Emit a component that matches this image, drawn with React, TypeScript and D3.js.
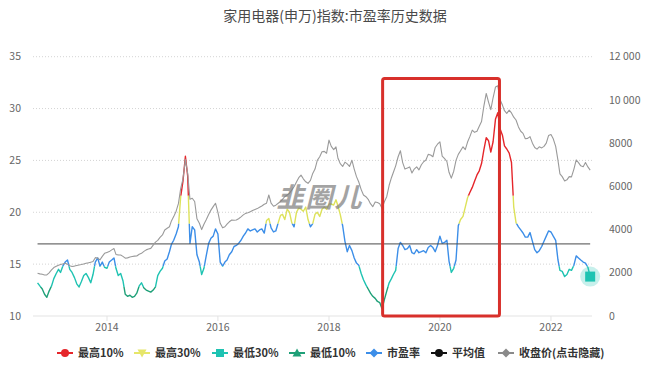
import React from "react";
import * as d3 from "d3";

const W = 670;
const H = 366;

// 市盈率 (semi-monthly, 2012-10 .. 2022-09)
const peValues = [
  13.2, 12.9, 12.6, 12.1, 11.8, 12.4, 12.9, 13.6, 14.1, 14.5,
  14.2, 14.8, 15.2, 15.4, 14.5, 14.2, 13.7, 13.1, 12.8, 13.3,
  13.9, 14.1, 13.7, 13.2, 14.0, 15.2, 15.6, 14.8, 15.2, 14.7,
  14.6, 15.2, 15.4, 15.6, 14.6, 13.9, 14.1, 13.4, 12.1, 11.9,
  12.0, 11.8, 11.9, 12.2, 12.9, 13.2, 12.7, 12.5, 12.4, 12.3,
  12.5, 12.8, 13.9, 14.3, 14.6, 15.3, 15.5, 16.2, 16.9, 17.3,
  17.9, 18.6, 21.5, 23.0, 25.4, 23.5, 17.0, 18.6, 18.3, 15.9,
  15.2, 14.0, 14.6, 15.8, 17.0, 17.5, 17.7, 18.4, 17.9, 15.2,
  14.8, 15.2, 15.4, 15.9, 16.2, 16.7, 16.8, 17.0, 17.3, 17.7,
  18.0, 18.4, 18.2, 18.3, 18.4, 18.1, 18.3, 18.4, 18.0, 19.2,
  19.4, 18.5, 18.1, 18.2, 19.0, 19.7, 19.8, 19.3, 20.3, 20.0,
  19.0, 18.6, 20.0, 20.4, 20.3, 20.1, 20.5, 19.3, 18.6, 18.9,
  19.8, 20.0, 19.6, 20.3, 20.5, 20.3, 20.8, 20.8, 20.7, 21.2,
  20.6, 19.8, 18.7, 17.2, 16.2, 16.8, 16.3, 15.6, 15.1, 14.9,
  14.1, 13.5, 13.0, 12.6, 12.2, 11.9, 11.7, 11.4, 11.3, 10.7,
  11.6, 12.4, 13.2, 13.6, 14.0, 14.4, 16.5, 17.1, 16.8, 16.4,
  16.5, 16.8, 16.1, 16.0, 16.4, 16.1, 16.2, 16.3, 16.1, 16.6,
  16.8, 16.6, 16.2, 16.8, 17.7, 17.0, 17.1, 17.3, 15.3, 14.2,
  14.6, 15.4, 18.7, 19.3, 19.6, 20.5, 21.4, 21.9, 22.4, 23.0,
  23.6, 24.0, 24.7, 26.0, 27.2, 26.9, 25.8, 26.8, 29.0, 29.6,
  28.0, 27.4, 26.4, 26.1, 25.7, 24.8, 20.5, 19.0, 18.6, 18.3,
  18.0, 17.6, 17.6, 18.05, 17.2, 16.4, 16.1, 16.3, 16.7, 17.2,
  17.7, 18.2, 18.1, 17.7, 17.3, 15.4, 14.4, 14.3, 13.8, 14.0,
  14.5, 14.4, 14.9, 15.8, 15.6, 15.4, 15.2, 15.1, 14.7, 13.8,
];

// 收盘价
const closeValues = [
  1980, 1950, 1930, 1900, 1900, 2000, 2130, 2240, 2300, 2350,
  2380, 2410, 2440, 2400, 2330, 2290, 2310, 2340, 2360, 2380,
  2410, 2440, 2460, 2490, 2520, 2700, 2680, 2600, 2760, 2900,
  2940, 2980, 3060, 3120, 2850, 2830, 2820, 2760, 2680, 2690,
  2730, 2750, 2770, 2780, 2860, 2900, 2990, 3060, 3100, 3130,
  3280, 3420, 3500, 3640, 3750, 3980, 4060, 4130, 4400, 4600,
  4850, 5200, 5900, 6350, 7250, 6600, 5400, 5450, 5300, 4500,
  4290, 4000, 4250, 4450, 4700, 4900, 5060, 5220, 4800, 4290,
  4080, 4130, 4250, 4360, 4440, 4430, 4440, 4500, 4590, 4680,
  4750, 4780, 4820, 4880, 4930, 4970, 5030, 5090, 5170, 5220,
  5600, 5220, 5080, 5130, 5220, 5300, 5400, 5520, 5600, 5680,
  5830, 5980, 6200, 6400, 6520, 6350, 6210, 6140, 6280, 6600,
  6800, 7200, 7370, 7600, 7620, 7530, 8140, 7850, 7700, 7830,
  7300, 7050, 6920, 7120, 7040, 6920, 7210, 6800, 6450, 6200,
  5850, 5600, 5520, 5400, 5200, 5060, 5280, 5250, 5200, 4990,
  5300, 5520, 6050, 6400, 6650, 6950, 7370, 7650, 7100, 6800,
  6850, 6900, 6620, 6800, 6900, 6760, 7000, 7140, 7220, 7480,
  7450, 7370, 7800, 7950, 8060, 7400, 7280, 7150, 6650, 6380,
  6700, 7200, 7480, 7650, 7830, 7700, 8050, 8300, 8600, 8500,
  8550, 8780, 9000, 9700, 10300, 9900, 9550, 10100, 10600, 10650,
  10000, 9750, 9500, 9380, 9530, 9400, 9200, 9070, 8750, 8550,
  8450, 8200, 8220, 8300, 8000, 7800, 7720, 7830, 7780, 7850,
  8000, 8350, 8400, 8200, 7850, 7200, 6580, 6450, 6250, 6300,
  6450, 6440, 6800, 7220, 7100, 6950, 6910, 7100, 6900, 6750,
];

// 1st and 16th of each month from 2012-10
const dates = peValues.map((_, j) => new Date(2012, 9 + Math.floor(j / 2), j % 2 ? 16 : 1));

const avgPE = 16.95;

// percentile bands: [low, high]
const zoneNames = ["最高10%", "最高30%", "市盈率", "最低30%", "最低10%"];
const zoneColors = ["#e5262b", "#dde25a", "#3c8ee8", "#1fc3b2", "#1fa078"];
const zoneBounds: [number, number][] = [
  [21.6, 40],
  [18.9, 21.6],
  [14.8, 18.9],
  [12.8, 14.8],
  [5, 12.8],
];

const leftTicks = [10, 15, 20, 25, 30, 35];
const rightTicks = [0, 2000, 4000, 6000, 8000, 10000, 12000];
const yearTicks = [2014, 2016, 2018, 2020, 2022];

const legendNames = ["最高10%", "最高30%", "最低30%", "最低10%", "市盈率", "平均值", "收盘价(点击隐藏)"];
const legendColors = ["#e5262b", "#e6e66a", "#1fc3b2", "#1fa078", "#3c8ee8", "#111111", "#8a8a8a"];
const legendSymbols = ["circle", "triangle-down", "square", "triangle", "diamond", "circle", "diamond"];
const legendX = [78, 155, 233, 310, 387, 452, 519];

// hand-drawn highlight box
const boxStart = new Date(2018, 11, 20);
const boxEnd = new Date(2021, 0, 27);
const boxTop = 32.9;

const FONT = '"Noto Sans CJK SC", "Noto Sans", sans-serif';

function symbolPath(kind: string) {
  switch (kind) {
    case "triangle-down":
      return "M-4.5,-3.5L4.5,-3.5L0,4.5Z";
    case "triangle":
      return "M0,-4.5L4.5,3.5L-4.5,3.5Z";
    case "square":
      return "M-4,-4L4,-4L4,4L-4,4Z";
    case "diamond":
      return "M0,-4.5L4.5,0L0,4.5L-4.5,0Z";
    default:
      return "M-4,0A4,4 0 1,0 4,0A4,4 0 1,0 -4,0Z";
  }
}

const fmtRight = (v: number) => (v >= 10000 ? d3.format(",")(v).replace(",", " ") : String(v));

export default function App() {
  const x = d3.scaleTime().domain([new Date(2012, 8, 1), new Date(2022, 8, 28)]).range([33, 592]);
  const yL = d3.scaleLinear().domain([10, 35]).range([316, 56.7]);
  const yR = d3.scaleLinear().domain([0, 12000]).range([316, 56.7]);

  const peLine = d3
    .line<number>()
    .x((_, i) => x(dates[i]))
    .y((d) => yL(d))(peValues) as string;

  const closeLine = d3
    .line<number>()
    .x((_, i) => x(dates[i]))
    .y((d) => yR(d))(closeValues) as string;

  const last = peValues.length - 1;
  const lastX = x(dates[last]);
  const lastY = yL(peValues[last]);

  return (
    <svg
      width={W}
      height={H}
      style={{ position: "absolute", left: 0, top: 0, background: "#fff", fontFamily: FONT }}
    >
      <defs>
        {zoneBounds.map(([lo, hi], i) => (
          <clipPath id={`zone-${i}`} key={i}>
            <rect x={0} y={yL(hi)} width={W} height={yL(lo) - yL(hi)} />
          </clipPath>
        ))}
      </defs>

      <text x={335} y={21} textAnchor="middle" fontSize={14} fill="#4a4a4a">
        家用电器(申万)指数:市盈率历史数据
      </text>

      {/* grid */}
      {leftTicks.map((t) =>
        t === 10 ? null : (
          <line key={t} x1={33} x2={592} y1={yL(t)} y2={yL(t)} stroke="#d4d4d4" strokeDasharray="1 2" />
        )
      )}
      <line x1={33} x2={592} y1={316} y2={316} stroke="#e3e3e3" />
      {yearTicks.map((yr) => (
        <line key={yr} x1={x(new Date(yr, 0, 1))} x2={x(new Date(yr, 0, 1))} y1={316} y2={321} stroke="#e3e3e3" />
      ))}

      {/* axes labels */}
      {leftTicks.map((t) => (
        <text key={t} x={21} y={yL(t)} dy="0.35em" textAnchor="end" fontSize={10.5} fill="#666">
          {t}
        </text>
      ))}
      {rightTicks.map((t) => (
        <text key={t} x={609} y={yR(t)} dy="0.35em" fontSize={10.5} fill="#666">
          {fmtRight(t)}
        </text>
      ))}
      {yearTicks.map((yr) => (
        <text key={yr} x={x(new Date(yr, 0, 1))} y={331} textAnchor="middle" fontSize={10.5} fill="#666">
          {yr}
        </text>
      ))}

      {/* PE coloured by percentile band */}
      {zoneBounds.map((_, i) => (
        <path
          key={zoneNames[i]}
          d={peLine}
          fill="none"
          stroke={zoneColors[i]}
          strokeWidth={1.4}
          strokeLinejoin="round"
          clipPath={`url(#zone-${i})`}
        />
      ))}

      {/* average */}
      <line x1={x(dates[0])} x2={lastX} y1={yL(avgPE)} y2={yL(avgPE)} stroke="#4a4a4a" strokeWidth={1} />

      {/* close price */}
      <path d={closeLine} fill="none" stroke="#9a9a9a" strokeWidth={1.1} strokeLinejoin="round" />

      {/* watermark */}
      <text
        x={320}
        y={207}
        textAnchor="middle"
        fontSize={27}
        fontWeight={700}
        fontStyle="italic"
        fill="#7d7d7d"
        opacity={0.7}
        letterSpacing={2}
      >
        韭圈儿
      </text>

      {/* highlight box */}
      <rect
        x={x(boxStart)}
        y={yL(boxTop)}
        width={x(boxEnd) - x(boxStart)}
        height={yL(10) - yL(boxTop)}
        fill="none"
        stroke="#d8302b"
        strokeWidth={3}
        rx={2}
      />

      {/* last point marker */}
      <circle cx={lastX} cy={lastY} r={10} fill="#1fc3b2" opacity={0.25} />
      <rect x={lastX - 5} y={lastY - 5} width={10} height={10} fill="#1fc3b2" />

      {/* legend */}
      {legendNames.map((name, i) => {
        const tx = legendX[i];
        const cx = tx - 13;
        return (
          <g key={name}>
            <line x1={cx - 8} x2={cx + 8} y1={353} y2={353} stroke={legendColors[i]} strokeWidth={2} />
            <path d={symbolPath(legendSymbols[i])} transform={`translate(${cx},353)`} fill={legendColors[i]} />
            <text x={tx} y={353} dy="0.35em" fontSize={11} fontWeight={700} fill="#333">
              {name}
            </text>
          </g>
        );
      })}
    </svg>
  );
}
